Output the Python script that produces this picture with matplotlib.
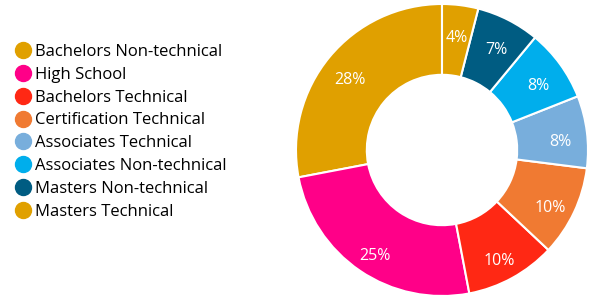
import matplotlib.pyplot as plt
from matplotlib.lines import Line2D

plt.rcParams['font.family'] = ['Open Sans', 'DejaVu Sans']

# legend order = drawing order (counterclockwise from top)
labels = ['Bachelors Non-technical', 'High School', 'Bachelors Technical',
          'Certification Technical', 'Associates Technical',
          'Associates Non-technical', 'Masters Non-technical', 'Masters Technical']
shares = [28, 25, 10, 10, 8, 8, 7, 4]
colors = ['#E0A000', '#FF0088', '#FF2814', '#F07A32', '#78AEDC',
          '#00AEEC', '#005C82', '#E0A000']

fig = plt.figure(figsize=(5.93, 2.99), dpi=100)

# donut
ax = fig.add_axes([296 / 593, 3 / 299, 292 / 593, 292 / 299])
wedges, texts, autotexts = ax.pie(
    shares, colors=colors, startangle=90, counterclock=True,
    autopct='%d%%', pctdistance=0.82,
    wedgeprops=dict(width=0.485, edgecolor='white', linewidth=1.5),
    textprops=dict(color='white', fontsize=11.5))
# labels sit a little below the ring centre line, as in the original
for t in autotexts:
    x, y = t.get_position()
    t.set_position((x, y - 0.045))
ax.set_xlim(-1, 1)
ax.set_ylim(-1, 1)
ax.set_aspect('equal')
ax.axis('off')

# legend on the left
handles = [Line2D([], [], marker='o', linestyle='none', markersize=11.5,
                  markerfacecolor=c, markeredgecolor=c) for c in colors]
fig.legend(handles, labels, loc='upper left', bbox_to_anchor=(12 / 593, 1 - 44 / 299),
           frameon=False, fontsize=12, handletextpad=0.1, labelspacing=0.41,
           handlelength=1.3, borderaxespad=0, borderpad=0)

fig.savefig('out.png', dpi=100)
